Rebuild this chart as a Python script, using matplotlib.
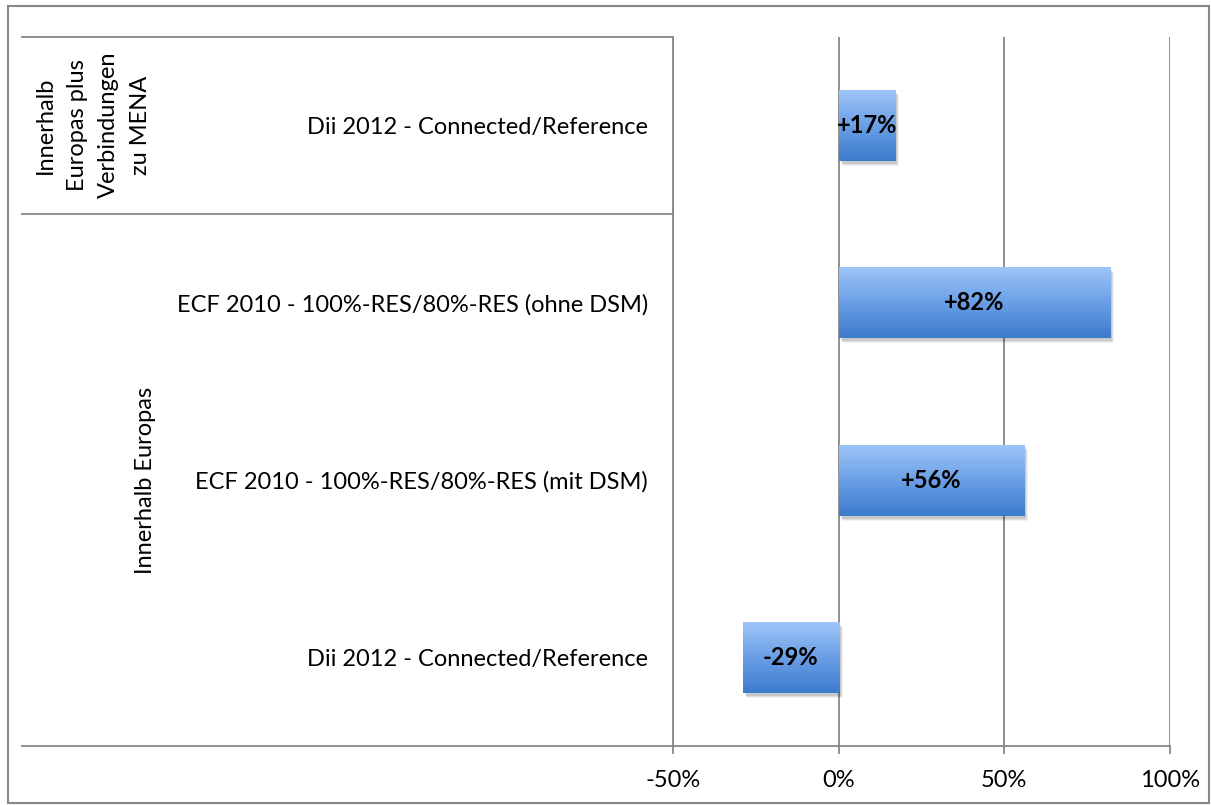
import matplotlib
matplotlib.use("Agg")
import matplotlib.pyplot as plt
import matplotlib.transforms as mtransforms
from matplotlib.colors import LinearSegmentedColormap
from matplotlib.lines import Line2D
from matplotlib.patches import Rectangle
import numpy as np

# ---- data (bottom to top) ----
categories = ["Dii 2012 - Connected/Reference",
              "ECF 2010 - 100%-RES/80%-RES (mit DSM)",
              "ECF 2010 - 100%-RES/80%-RES (ohne DSM)",
              "Dii 2012 - Connected/Reference"]
values = [-29, 56, 82, 17]
bar_labels = ["-29%", "+56%", "+82%", "+17%"]
groups = ["Innerhalb Europas", "Innerhalb\nEuropas plus\nVerbindungen\nzu MENA"]
group_sizes = [3, 1]
xticks = [-50, 0, 50, 100]
xticklabels = ["-50%", "0%", "50%", "100%"]

plt.rcParams['font.family'] = ['Lato', 'DejaVu Sans']
FS = 17
GRAY = '#878787'

W, H = 1211, 805
fig = plt.figure(figsize=(W / 100, H / 100), dpi=100)
fig.patch.set_facecolor('white')


def fx(px):
    return px / W


def fy(py):
    return 1 - py / H


ax = fig.add_axes([fx(673), fy(746), fx(1170) - fx(673), fy(37) - fy(746)])
ax.set_facecolor('none')

cmap = LinearSegmentedColormap.from_list('bar', ['#9fc5f8', '#6a9fe6', '#3b7bcc'])
grad = np.linspace(0, 1, 256).reshape(-1, 1)
bh = 0.4
for i, (v, lab) in enumerate(zip(values, bar_labels)):
    x0, x1 = min(0, v), max(0, v)
    for k, (dx, dy, a) in enumerate([(2, -3, 0.10), (3, -4, 0.08), (4, -5, 0.05)]):
        tr = mtransforms.offset_copy(ax.transData, fig=fig, x=dx, y=dy, units='dots')
        ax.add_patch(Rectangle((x0, i - bh / 2), x1 - x0, bh, transform=tr,
                               facecolor='black', alpha=a, edgecolor='none', zorder=2))
    ax.imshow(grad, extent=[x0, x1, i - bh / 2, i + bh / 2], aspect='auto',
              cmap=cmap, zorder=3, interpolation='bilinear')
    ax.text((x0 + x1) / 2, i, lab, ha='center', va='center', fontsize=FS,
            fontweight='bold', color='black', zorder=4)

ax.set_xlim(-50, 100)
ax.set_ylim(-0.5, 3.5)
ax.set_xticks(xticks)
ax.set_xticklabels(xticklabels, fontsize=FS)
ax.set_yticks(range(len(categories)))
ax.set_yticklabels(categories, fontsize=FS)
ax.tick_params(axis='y', length=0, pad=18)
ax.tick_params(axis='x', length=6, color=GRAY, width=1.3, pad=11)
ax.grid(axis='x', color=GRAY, lw=1.3, zorder=1)
ax.set_axisbelow(True)
for s in ['top', 'right']:
    ax.spines[s].set_visible(False)
for s in ['left', 'bottom']:
    ax.spines[s].set_color(GRAY)
    ax.spines[s].set_linewidth(1.3)

# category axis lines
for py in [37, 214, 746]:
    fig.add_artist(Line2D([fx(22), fx(673)], [fy(py), fy(py)], color=GRAY, lw=1.3,
                          transform=fig.transFigure))

# group labels
fig.text(fx(145), fy(480), groups[0], rotation=90, ha='center', va='center', fontsize=FS)
fig.text(fx(93), fy(125), groups[1], rotation=90, ha='center', va='center',
         fontsize=FS, multialignment='center', linespacing=1.62)

# outer border
fig.add_artist(Rectangle((fx(8), fy(803)), fx(1209) - fx(8), fy(6) - fy(803),
                         transform=fig.transFigure, facecolor='none',
                         edgecolor=GRAY, lw=1.5))

fig.savefig('out.png', dpi=100)
